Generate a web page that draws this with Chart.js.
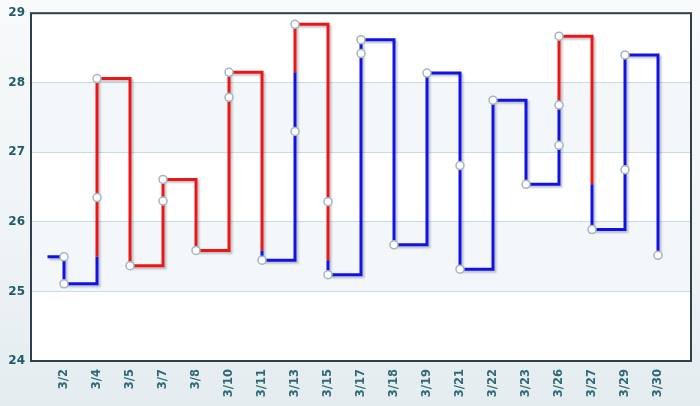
<!DOCTYPE html>
<html>
<head>
<meta charset="utf-8">
<script src="https://cdn.jsdelivr.net/npm/chart.js@4/dist/chart.umd.min.js"></script>
<style>
  html, body { margin: 0; padding: 0; }
  body {
    width: 700px; height: 406px; overflow: hidden;
    background: linear-gradient(to bottom, #f8fafb 0%, #eef3f5 60%, #e4ecf0 100%);
  }
  #wrap { position: relative; width: 700px; height: 406px; }
</style>
</head>
<body>
<div id="wrap"><canvas id="chart"></canvas></div>
<script>
// daily closing prices (3/1 .. 3/30)
const dates = [
    "3/1", "3/2", "3/3", "3/4", "3/5", "3/6", "3/7", "3/8", "3/9", "3/10",
    "3/11", "3/12", "3/13", "3/14", "3/15", "3/16", "3/17", "3/18", "3/19", "3/20",
    "3/21", "3/22", "3/23", "3/24", "3/25", "3/26", "3/27", "3/28", "3/29", "3/30",
];
const prices = [
    25.50, 25.11, 26.35, 28.06, 25.37, 26.30, 26.61, 25.59, 27.79, 28.15,
    25.45, 27.30, 28.84, 26.29, 25.24, 28.42, 28.62, 25.67, 28.14, 26.81,
    25.32, 27.75, 26.54, 27.10, 27.68, 28.67, 25.89, 26.75, 28.40, 25.52,
];
const yTicks = [24, 25, 26, 27, 28, 29];

const YANG = "#ee1515"; // красная линия
const YIN = "#1212e6";  // синяя линия

// Группируем цены в колонки Каги: новая колонка при смене направления
const columns = [{ values: [prices[0]], label: dates[0] }];
let dir = 0;
for (let i = 1; i < prices.length; i++) {
    const d = Math.sign(prices[i] - prices[i - 1]);
    const col = columns[columns.length - 1];
    if (dir === 0 || d === dir) {
        col.values.push(prices[i]);
        col.label = dates[i];
        dir = d;
    } else {
        columns.push({ values: [prices[i]], label: dates[i] });
        dir = d;
    }
}
const colLabels = columns.map((c) => c.label);

// Строим путь линии и цвета сегментов
const path = [];
const segColors = [];
let state = "yin";
let lastHigh = prices[0];
let lastLow = null;
let prevEnd = prices[0];
path.push({ x: -0.5, y: prevEnd });
segColors.push(YIN);
columns.forEach((col, c) => {
    const end = col.values[col.values.length - 1];
    const rising = end > prevEnd;
    path.push({ x: c, y: prevEnd });
    segColors.push(state === "yang" ? YANG : YIN);
    if (rising && state === "yin" && end > lastHigh) {
        path.push({ x: c, y: lastHigh });
        state = "yang";
        segColors.push(YANG);
    } else if (!rising && state === "yang" && lastLow !== null && end < lastLow) {
        path.push({ x: c, y: lastLow });
        state = "yin";
        segColors.push(YIN);
    }
    path.push({ x: c, y: end });
    segColors.push(state === "yang" ? YANG : YIN);
    if (rising) lastHigh = end; else lastLow = end;
    prevEnd = end;
});

const markers = [];
columns.forEach((col, c) => col.values.forEach((v) => markers.push({ x: c, y: v })));

// Фон области, полосы, рамка и тень линии
const decorPlugin = {
    id: "decor",
    beforeDraw(chart) {
        const { ctx, chartArea: a, scales: { y } } = chart;
        ctx.save();
        ctx.fillStyle = "#ffffff";
        ctx.fillRect(a.left, a.top, a.right - a.left, a.bottom - a.top);
        ctx.fillStyle = "#f3f7f9";
        [[25, 26], [27, 28]].forEach(([lo, hi]) => {
            const top = y.getPixelForValue(hi);
            const bot = y.getPixelForValue(lo);
            ctx.fillRect(a.left, top, a.right - a.left, bot - top);
        });
        ctx.restore();
    },
    beforeDatasetsDraw(chart) {
        const { ctx, chartArea: a } = chart;
        ctx.save();
        ctx.strokeStyle = "#2d404c";
        ctx.lineWidth = 2;
        ctx.strokeRect(a.left, a.top, a.right - a.left, a.bottom - a.top);
        ctx.restore();
    },
    beforeDatasetDraw(chart, args) {
        const ctx = chart.ctx;
        ctx.save();
        if (args.index === 0) {
            ctx.shadowColor = "rgba(40,50,70,0.28)";
            ctx.shadowOffsetX = 2;
            ctx.shadowOffsetY = 2;
            ctx.shadowBlur = 2;
        }
    },
    afterDatasetDraw(chart) {
        chart.ctx.restore();
    },
};

new Chart(document.getElementById("chart"), {
    type: "scatter",
    data: {
        datasets: [
            {
                type: "line",
                order: 2,
                data: path,
                showLine: true,
                borderWidth: 3,
                borderColor: YIN,
                pointRadius: 0,
                tension: 0,
                fill: false,
                segment: {
                    borderColor: (ctx) => segColors[ctx.p0DataIndex],
                },
            },
            {
                order: 1,
                data: markers,
                pointRadius: 4,
                pointBorderWidth: 1.5,
                pointBackgroundColor: "#ffffff",
                pointBorderColor: "#a3b5bd",
            },
        ],
    },
    options: {
        responsive: true,
        maintainAspectRatio: false,
        animation: false,
        events: [],
        layout: { padding: { top: 12, right: 9, left: 0, bottom: 0 } },
        plugins: { legend: { display: false }, tooltip: { enabled: false } },
        scales: {
            x: {
                type: "linear",
                min: -1,
                max: colLabels.length,
                afterBuildTicks: (axis) => {
                    axis.ticks = colLabels.map((_, i) => ({ value: i }));
                },
                afterFit: (scale) => { scale.height = 45; },
                grid: { display: false },
                border: { display: false },
                ticks: {
                    autoSkip: false,
                    minRotation: 90,
                    maxRotation: 90,
                    padding: 0,
                    color: "#2f6a76",
                    font: { family: "DejaVu Sans", size: 11.5, weight: "bold" },
                    callback: (v) => colLabels[v],
                },
            },
            y: {
                min: yTicks[0],
                max: yTicks[yTicks.length - 1],
                afterBuildTicks: (axis) => {
                    axis.ticks = yTicks.map((v) => ({ value: v }));
                },
                afterFit: (scale) => { scale.width = 31; },
                border: { display: false },
                grid: {
                    drawTicks: false,
                    lineWidth: 1,
                    color: (ctx) =>
                        ctx.tick && (ctx.tick.value === 24 || ctx.tick.value === 29)
                            ? "rgba(0,0,0,0)"
                            : "#c6dde5",
                },
                ticks: {
                    padding: 6,
                    color: "#215c68",
                    font: { family: "DejaVu Sans", size: 12, weight: "bold" },
                },
            },
        },
    },
    plugins: [decorPlugin],
});
</script>
</body>
</html>
